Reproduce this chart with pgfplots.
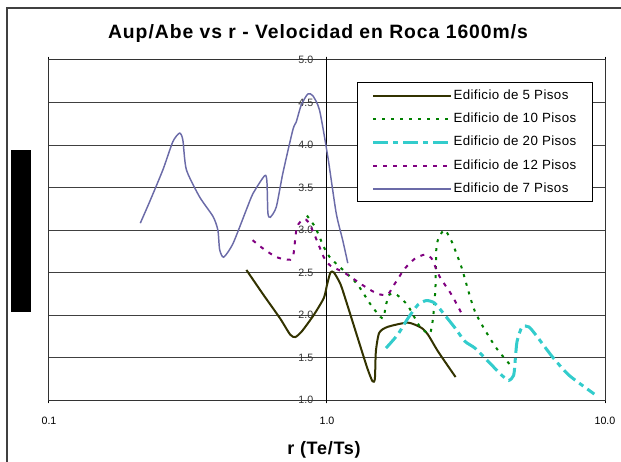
\documentclass[border=0pt]{standalone}
\usepackage{pgfplots}
\pgfplotsset{compat=1.18}
\usepackage{fontspec}
\setmainfont{Liberation Sans}
\newfontfamily\spacedfont[LetterSpace=5]{Liberation Sans}
\newfontfamily\xlabfont[LetterSpace=4]{Liberation Sans}
\newfontfamily\legfont[LetterSpace=3]{Liberation Sans}
\definecolor{cFive}{HTML}{333300}
\definecolor{cTen}{HTML}{008000}
\definecolor{cTwenty}{HTML}{33CCCC}
\definecolor{cTwelve}{HTML}{800080}
\definecolor{cSeven}{HTML}{6B6BA8}
\begin{document}
\begin{tikzpicture}
\useasboundingbox (-36.75pt,-45.75pt) rectangle (429pt,300pt);
\draw[black!75, line width=1.1pt] (-31.5pt,-50pt) -- (-31.5pt,294pt) -- (435pt,294pt);
\fill[black] (-28.5pt,66.2pt) rectangle (-13.5pt,187.5pt);
\begin{axis}[
  scale only axis, width=417pt, height=255pt,
  at={(0pt,0pt)}, anchor=south west,
  xmode=log, xmin=0.1, xmax=10, ymin=1, ymax=5,
  xtick={0.1,1,10}, xticklabels={0.1,1.0,10.0},
  xminorticks=false,
  ytick={1,1.5,2,2.5,3,3.5,4,4.5,5},
  yticklabels={1.0,1.5,2.0,2.5,3.0,3.5,4.0,4.5,5.0},
  ymajorgrids,
  major grid style={black!75, line width=0.75pt},
  extra x ticks={1}, extra x tick labels={},
  extra x tick style={grid=major, major grid style={black, line width=0.75pt}},
  tick align=outside, major tick length=2.5pt,
  ytick style={draw=none},
  axis line style={black!80, line width=0.75pt},
  tick style={black, line width=0.75pt},
  /pgf/number format/assume math mode=true,
  ticklabel style={font=\fontsize{8}{9.6}\selectfont},
  xticklabel style={yshift=-7pt},
  yticklabel style={xshift=204.2pt, text=black!80},
  title={\spacedfont\bfseries\fontsize{14.5}{17}\selectfont Aup/Abe vs r - Velocidad en Roca 1600m/s},
  title style={at={(0.4838,1)}, anchor=base, yshift=10.2pt},
  xlabel={\xlabfont\bfseries\fontsize{13.5}{16}\selectfont r (Te/Ts)},
  xlabel style={at={(axis description cs:0.4946,0)}, anchor=base, yshift=-40.9pt},
  legend image code/.code={\draw[#1] (0pt,0pt) -- (58pt,0pt);},
  legend style={at={(0.978,0.934)}, anchor=north east, draw=black, fill=white,
    line width=0.75pt, inner xsep=11pt, inner ysep=3.6pt, row sep=5.5pt,
    font=\legfont\fontsize{10}{12}\selectfont,
    nodes={inner sep=1pt, text height=7.5pt, text depth=2.5pt}},
  legend cell align=left,
]
\addplot[cFive, line width=1.5pt, smooth, tension=0.4] coordinates {
(0.513,2.53) (0.590,2.24) (0.678,1.96) (0.737,1.77) (0.769,1.74) (0.813,1.81)
(0.896,2.00) (0.974,2.20) (1.001,2.36) (1.029,2.50) (1.059,2.50) (1.119,2.36)
(1.183,2.12) (1.304,1.68) (1.398,1.37) (1.458,1.22) (1.487,1.25) (1.499,1.57)
(1.541,1.79) (1.652,1.86) (1.954,1.91) (2.183,1.85) (2.307,1.77) (2.510,1.57)
(2.901,1.27)};
\addlegendentry{Edificio de 5 Pisos}
\addplot[cTen, line width=1.5pt, dash pattern=on 2.25pt off 4.5pt, smooth, tension=0.4] coordinates {
(0.847,3.17) (0.908,3.03) (0.974,2.80) (1.029,2.67) (1.151,2.52) (1.287,2.36)
(1.438,2.12) (1.585,1.96) (1.630,2.12) (1.676,2.24) (1.747,2.25) (1.797,2.23)
(1.954,2.11) (2.152,1.87) (2.340,1.78) (2.406,1.96) (2.455,2.32) (2.475,2.80)
(2.544,2.93) (2.652,3.00) (2.804,2.87) (3.048,2.56) (3.407,2.04) (4.027,1.63)
(4.627,1.39)};
\addlegendentry{Edificio de 10 Pisos}
\addplot[cTwenty, line width=2.25pt, dash pattern=on 11.25pt off 3.75pt on 3.75pt off 3.75pt, smooth, tension=0.4] coordinates {
(1.630,1.61) (1.797,1.77) (1.954,1.96) (2.124,2.12) (2.277,2.17) (2.440,2.14)
(2.652,2.00) (2.884,1.85) (3.135,1.69) (3.407,1.61) (3.811,1.45) (4.257,1.29)
(4.503,1.23) (4.693,1.29) (4.760,1.49) (4.827,1.69) (5.029,1.86) (5.321,1.86)
(5.625,1.77) (6.462,1.51) (7.431,1.29) (9.155,1.07)};
\addlegendentry{Edificio de 20 Pisos}
\addplot[cTwelve, line width=1.5pt, dash pattern=on 3pt off 4.5pt, smooth, tension=0.4] coordinates {
(0.540,2.88) (0.590,2.78) (0.659,2.68) (0.737,2.65) (0.758,2.72) (0.779,3.03)
(0.824,3.13) (0.859,3.09) (0.908,2.92) (0.974,2.68) (1.029,2.58) (1.151,2.50)
(1.360,2.34) (1.519,2.25) (1.652,2.24) (1.747,2.36) (1.899,2.54) (2.065,2.66)
(2.244,2.71) (2.373,2.67) (2.544,2.45) (2.804,2.24) (3.048,2.02)};
\addlegendentry{Edificio de 12 Pisos}
\addplot[cSeven, line width=1.1pt, smooth, tension=0.4] coordinates {
(0.213,3.08) (0.230,3.33) (0.257,3.71) (0.279,4.04) (0.295,4.14) (0.303,4.06)
(0.312,3.71) (0.348,3.39) (0.389,3.16) (0.405,3.00) (0.411,2.77) (0.425,2.68)
(0.459,2.84) (0.513,3.24) (0.542,3.43) (0.597,3.64) (0.608,3.57) (0.613,3.20)
(0.625,3.15) (0.657,3.27) (0.694,3.67) (0.754,4.18) (0.775,4.27) (0.808,4.47)
(0.853,4.60) (0.889,4.58) (0.940,4.41) (1.007,3.86) (1.079,3.20) (1.139,2.88)
(1.188,2.61)};
\addlegendentry{Edificio de 7 Pisos}
\end{axis}
\end{tikzpicture}
\end{document}
